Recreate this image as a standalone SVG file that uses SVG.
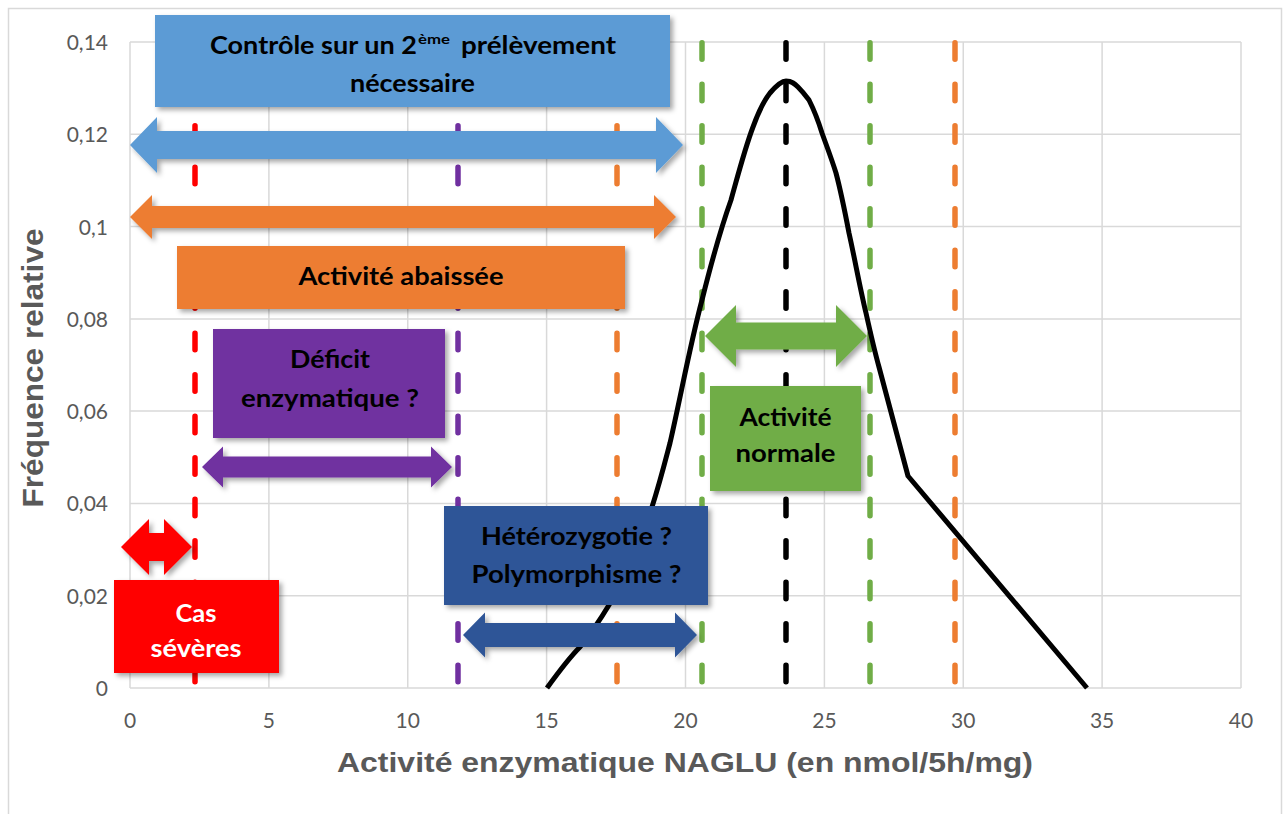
<svg xmlns="http://www.w3.org/2000/svg" width="1284" height="814" viewBox="0 0 1284 814">
<defs>
<filter id="sh" x="-10%" y="-20%" width="130%" height="150%">
<feDropShadow dx="3" dy="3" stdDeviation="2.5" flood-color="#000" flood-opacity="0.35"/>
</filter>
<style>
.grid{stroke:#D9D9D9;stroke-width:1.5;fill:none}
.dash{stroke-width:5.5;stroke-linecap:round;stroke-dasharray:16.5 25;fill:none}
.tick{font-family:Lato,"Liberation Sans",sans-serif;font-size:21px;fill:#595959}
.ttl{font-family:"Liberation Sans",Arial,sans-serif;font-weight:bold;fill:#595959}
.bx{font-family:Lato,"Liberation Sans",sans-serif;font-weight:bold;font-size:25px;fill:#000;text-anchor:middle}
.shp{filter:url(#sh)}
</style>
</defs>
<rect x="0" y="0" width="1284" height="814" fill="#fff"/>
<rect x="8.5" y="8.5" width="1273" height="815" fill="#fff" stroke="#D9D9D9" stroke-width="1.5"/>

<g id="grid">
<path class="grid" d="M130,42H1241M130,134.3H1241M130,226.6H1241M130,318.9H1241M130,411.1H1241M130,503.4H1241M130,595.7H1241M130,688H1241"/>
<path class="grid" d="M130,42V688M268.9,42V688M407.75,42V688M546.6,42V688M685.5,42V688M824.4,42V688M963.25,42V688M1102.1,42V688M1241,42V688"/>
</g>

<g id="axis-labels">
<g class="tick" text-anchor="end">
<text x="108" y="50">0,14</text>
<text x="108" y="142.3">0,12</text>
<text x="108" y="234.6">0,1</text>
<text x="108" y="326.9">0,08</text>
<text x="108" y="419.1">0,06</text>
<text x="108" y="511.4">0,04</text>
<text x="108" y="603.7">0,02</text>
<text x="108" y="696">0</text>
</g>
<g class="tick" text-anchor="middle">
<text x="130" y="728">0</text>
<text x="268.9" y="728">5</text>
<text x="407.75" y="728">10</text>
<text x="546.6" y="728">15</text>
<text x="685.5" y="728">20</text>
<text x="824.4" y="728">25</text>
<text x="963.25" y="728">30</text>
<text x="1102.1" y="728">35</text>
<text x="1241" y="728">40</text>
</g>
<text class="ttl" x="685" y="772" font-size="28" text-anchor="middle" textLength="696" lengthAdjust="spacingAndGlyphs">Activité enzymatique NAGLU (en nmol/5h/mg)</text>
<text class="ttl" transform="translate(43,368) rotate(-90)" x="0" y="0" font-size="30" text-anchor="middle" textLength="279" lengthAdjust="spacingAndGlyphs">Fréquence relative</text>
</g>

<g id="connectors">
<line class="dash" x1="195" y1="42.75" x2="195" y2="690" stroke="#FF0000"/>
<line class="dash" x1="458" y1="42.75" x2="458" y2="690" stroke="#7030A0"/>
<line class="dash" x1="617" y1="42.75" x2="617" y2="690" stroke="#ED7D31"/>
<line class="dash" x1="702" y1="42.75" x2="702" y2="690" stroke="#70AD47"/>
<line class="dash" x1="786" y1="42.75" x2="786" y2="690" stroke="#000000"/>
<line class="dash" x1="870" y1="42.75" x2="870" y2="690" stroke="#70AD47"/>
<line class="dash" x1="955" y1="42.75" x2="955" y2="690" stroke="#ED7D31"/>
<path id="curve" d="M547,688 C560,670 570,657 580,647 C592,632 600,620 609,605 C625,578 640,545 652,507 C660,482 665,462 670,443 C681,395 690,345 702,300 C712,260 721,228 731,200 C738,175 745,148 753,127 C758,113 763,102 770,93 C776,86 781,81 786,81 C792,81 795,84 798,87 C803,92 806,96 809,100 C814,110 818,120 822,133 C827,147 832,160 836,173 C841,192 845,212 849,233 C855,260 860,288 866,313 C870,331 874,349 879,367 L908,476 L1087,688" fill="none" stroke="#000" stroke-width="5" stroke-linejoin="round"/>
</g>

<g id="arrow-blue" class="shp"><path fill="#5B9BD5" d="M130,145 L157,117 L157,131 L656,131 L656,117 L683,145 L656,173 L656,159 L157,159 L157,173 Z"/></g>
<g id="arrow-orange" class="shp"><path fill="#ED7D31" d="M130,217 L152,195 L152,206 L654,206 L654,195 L676,217 L654,239 L654,228 L152,228 L152,239 Z"/></g>
<g id="arrow-purple" class="shp"><path fill="#7030A0" d="M202,467 L223,446.5 L223,456.5 L431,456.5 L431,446.5 L452,467 L431,487.5 L431,477.5 L223,477.5 L223,487.5 Z"/></g>
<g id="arrow-red" class="shp"><path fill="#FF0000" d="M121,547 L149,519 L149,533 L164,533 L164,519 L192,547 L164,575 L164,561 L149,561 L149,575 Z"/></g>
<g id="arrow-darkblue" class="shp"><path fill="#2F5597" d="M463,635 L485,612.5 L485,623 L675,623 L675,612.5 L697,635 L675,657.5 L675,647 L485,647 L485,657.5 Z"/></g>
<g id="arrow-green" class="shp"><path fill="#70AD47" d="M705,336 L736,305 L736,322.5 L836,322.5 L836,305 L867,336 L836,367 L836,349.5 L736,349.5 L736,367 Z"/></g>

<g id="box-controle">
<rect class="shp" x="155" y="15" width="515" height="92" fill="#5B9BD5"/>
<text class="bx" x="210" y="54" style="text-anchor:start" textLength="207" lengthAdjust="spacingAndGlyphs">Contrôle sur un 2</text>
<text class="bx" x="418" y="44" style="text-anchor:start;font-size:14px" textLength="32" lengthAdjust="spacingAndGlyphs">ème</text>
<text class="bx" x="461" y="54" style="text-anchor:start" textLength="155" lengthAdjust="spacingAndGlyphs">prélèvement</text>
<text class="bx" x="412.5" y="92" textLength="125" lengthAdjust="spacingAndGlyphs">nécessaire</text>
</g>

<g id="box-abaissee">
<rect class="shp" x="177" y="246" width="448" height="63" fill="#ED7D31"/>
<text class="bx" x="401" y="285" textLength="205" lengthAdjust="spacingAndGlyphs">Activité abaissée</text>
</g>

<g id="box-deficit">
<rect class="shp" x="213" y="329" width="232" height="109" fill="#7030A0"/>
<text class="bx" x="330" y="368" textLength="80" lengthAdjust="spacingAndGlyphs">Déficit</text>
<text class="bx" x="330" y="407" textLength="178" lengthAdjust="spacingAndGlyphs">enzymatique ?</text>
</g>

<g id="box-severes">
<rect class="shp" x="114" y="580" width="165" height="93" fill="#FF0000"/>
<text class="bx" x="196" y="622" style="fill:#fff" textLength="41" lengthAdjust="spacingAndGlyphs">Cas</text>
<text class="bx" x="196" y="657" style="fill:#fff" textLength="91" lengthAdjust="spacingAndGlyphs">sévères</text>
</g>

<g id="box-hetero">
<rect class="shp" x="444" y="506" width="264" height="99" fill="#2F5597"/>
<text class="bx" x="576.5" y="545" textLength="191" lengthAdjust="spacingAndGlyphs">Hétérozygotie ?</text>
<text class="bx" x="576.5" y="583" textLength="210" lengthAdjust="spacingAndGlyphs">Polymorphisme ?</text>
</g>

<g id="box-normale">
<rect class="shp" x="710" y="386" width="151" height="105" fill="#70AD47"/>
<text class="bx" x="785.5" y="426" textLength="92" lengthAdjust="spacingAndGlyphs">Activité</text>
<text class="bx" x="785.5" y="462" textLength="100" lengthAdjust="spacingAndGlyphs">normale</text>
</g>
</svg>
